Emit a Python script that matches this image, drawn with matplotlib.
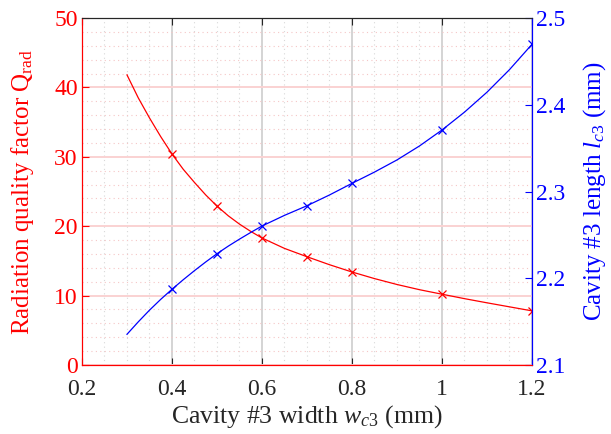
import numpy as np
import matplotlib
matplotlib.use("Agg")
import matplotlib.pyplot as plt
from matplotlib.ticker import MultipleLocator

plt.rcParams['font.family'] = ['Liberation Serif', 'DejaVu Serif']
plt.rcParams['mathtext.fontset'] = 'custom'
plt.rcParams['mathtext.rm'] = 'Liberation Serif'
plt.rcParams['mathtext.it'] = 'Liberation Serif:italic'

# simulated points (markers)
w_pts = [0.4, 0.5, 0.6, 0.7, 0.8, 1.0, 1.2]
q_pts = [30.4, 22.9, 18.3, 15.6, 13.4, 10.2, 7.8]
l_pts = [2.1873, 2.2283, 2.2602, 2.2836, 2.3094, 2.3709, 2.4697]

# fitted curves
w_fit = [0.3, 0.325, 0.35, 0.375, 0.4, 0.425, 0.45, 0.475, 0.5, 0.525,
         0.55, 0.575, 0.6, 0.65, 0.7, 0.75, 0.8, 0.85, 0.9, 0.95,
         1.0, 1.05, 1.1, 1.15, 1.2]
q_fit = [41.8, 38.5, 35.6, 32.9, 30.4, 28.2, 26.3, 24.5, 22.9, 21.5,
         20.3, 19.25, 18.3, 16.8, 15.6, 14.45, 13.4, 12.45, 11.6, 10.85,
         10.2, 9.56, 8.96, 8.38, 7.8]
l_fit = [2.1354, 2.1497, 2.1632, 2.1757, 2.1873, 2.1983, 2.2088, 2.2188, 2.2283, 2.2370,
         2.2451, 2.2528, 2.2602, 2.2725, 2.2836, 2.2960, 2.3094, 2.3224, 2.3364, 2.3525,
         2.3709, 2.3915, 2.4145, 2.4405, 2.4697]

red = '#ff0000'
blue = '#0000ff'
dark = '#262626'

fig = plt.figure(figsize=(6.11, 4.34), dpi=100)
ax = fig.add_axes([0.1342, 0.159, 0.7365, 0.7995])
ax2 = ax.twinx()

# grid on the left axes
ax.xaxis.set_major_locator(MultipleLocator(0.2))
ax.xaxis.set_minor_locator(MultipleLocator(0.05))
ax.yaxis.set_major_locator(MultipleLocator(10))
ax.yaxis.set_minor_locator(MultipleLocator(2))
ax.grid(True, which='major', axis='x', color='#d4d4d4', lw=1.4)
ax.grid(True, which='major', axis='y', color='#fad2d2', lw=1.4)
ax.grid(True, which='minor', axis='x', color='#d8d8d8', lw=0.8, ls=(0, (1, 3)))
ax.grid(True, which='minor', axis='y', color='#f5c6c6', lw=0.8, ls=(0, (1, 3)))
ax.set_axisbelow(True)

ax.plot(w_fit, q_fit, '-', color=red, lw=0.9)
ax.plot(w_pts, q_pts, 'x', color=red, ms=6, mew=0.9)
ax2.plot(w_fit, l_fit, '-', color=blue, lw=0.9)
ax2.plot(w_pts, l_pts, 'x', color=blue, ms=6, mew=0.9)

ax.set_xlim(0.2, 1.2)
ax.set_ylim(0, 50)
ax2.set_ylim(2.1, 2.5)
ax2.yaxis.set_major_locator(MultipleLocator(0.1))

ax.set_xticks([0.2, 0.4, 0.6, 0.8, 1.0, 1.2])
ax.set_xticklabels(['0.2', '0.4', '0.6', '0.8', '1', '1.2'])

ax.tick_params(axis='x', which='major', direction='in', top=True, length=5,
               labelsize=17, colors=dark, pad=10)
ax.tick_params(axis='y', which='major', direction='in', length=5,
               labelsize=17, colors=red, pad=3)
ax.tick_params(which='minor', length=0)
ax2.tick_params(axis='y', which='major', direction='in', length=5,
                labelsize=17, colors=blue, pad=3)
ax2.tick_params(which='minor', length=0)

for a in (ax, ax2):
    a.spines['left'].set_color(red)
    a.spines['right'].set_color(blue)
    a.spines['top'].set_color(dark)
    a.spines['bottom'].set_color(red)

ax.set_xlabel(r'Cavity #3 width $w_{c3}$ (mm)', fontsize=18.5, color=dark, labelpad=2)
ax.set_ylabel(r'Radiation quality factor Q$_{\rm rad}$', fontsize=18, color=red, labelpad=13)
ax2.set_ylabel(r'Cavity #3 length $l_{c3}$ (mm)', fontsize=18, color=blue, labelpad=11)

fig.savefig('out.png', dpi=100)
